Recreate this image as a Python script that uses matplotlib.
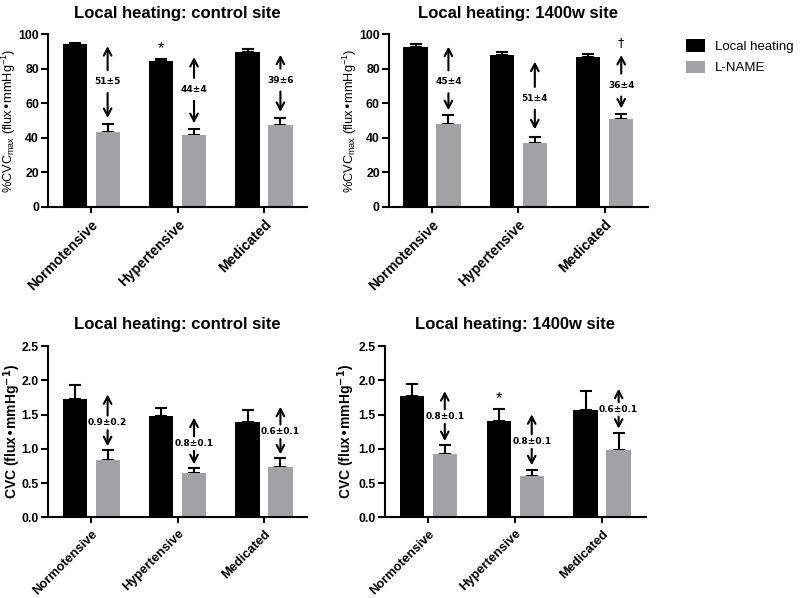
import matplotlib
matplotlib.use("Agg")
import matplotlib.pyplot as plt
import numpy as np

plt.rcParams['font.family'] = ['Liberation Sans', 'DejaVu Sans']

groups = ['Normotensive', 'Hypertensive', 'Medicated']
series = ['Local heating', 'L-NAME']

# %CVCmax, control site
lh_ctrl_pct = [94.0, 84.2, 89.8]
lh_ctrl_pct_err = [1.0, 1.3, 1.4]
ln_ctrl_pct = [43.2, 41.8, 47.4]
ln_ctrl_pct_err = [4.8, 3.5, 4.2]
# %CVCmax, 1400w site
lh_1400_pct = [92.7, 87.7, 86.9]
lh_1400_pct_err = [1.3, 1.9, 1.5]
ln_1400_pct = [47.8, 36.8, 50.9]
ln_1400_pct_err = [5.4, 3.7, 3.0]
# CVC, control site
lh_ctrl = [1.726, 1.485, 1.397]
lh_ctrl_err = [0.21, 0.115, 0.17]
ln_ctrl = [0.844, 0.64, 0.742]
ln_ctrl_err = [0.136, 0.073, 0.126]
# CVC, 1400w site
lh_1400 = [1.77, 1.41, 1.562]
lh_1400_err = [0.18, 0.177, 0.29]
ln_1400 = [0.93, 0.606, 0.98]
ln_1400_err = [0.13, 0.083, 0.25]

# difference arrows: labels, then (tip top, tip bottom, label y)
diff_ctrl_pct = ['51±5', '44±4', '39±6']
arr_ctrl_pct = ([93, 86.7, 88], [51.5, 48.5, 55], [72.5, 68, 73.4])
diff_1400_pct = ['45±4', '51±4', '36±4']
arr_1400_pct = ([92.7, 84, 87.9], [56, 44.9, 57], [72.4, 62.8, 70.5])
diff_ctrl = ['0.9±0.2', '0.8±0.1', '0.6±0.1']
arr_ctrl = ([1.795, 1.455, 1.615], [1.04, 0.776, 0.92], [1.38, 1.077, 1.25])
diff_1400 = ['0.8±0.1', '0.8±0.1', '0.6±0.1']
arr_1400 = ([1.843, 1.504, 1.878], [1.115, 0.761, 1.296], [1.47, 1.106, 1.577])

BLACK = '#000000'
GRAY = '#a2a2a6'
W = 0.28
OFF = 0.19

fig = plt.figure(figsize=(8, 5.98), dpi=100)


def panel(rect, title, ylabel, ylab_kw, lh, lh_err, ln, ln_err, labels, arrows,
          ymax, step, fmt, pad, shrink, ylx, xfs):
    ax = fig.add_axes(rect)
    x = np.arange(len(groups))
    b1 = ax.bar(x - OFF, lh, W, color=BLACK, label=series[0], zorder=2)
    b2 = ax.bar(x + OFF, ln, W, color=GRAY, label=series[1], zorder=2)
    for xs, v, e in [(x - OFF, lh, lh_err), (x + OFF, ln, ln_err)]:
        ax.errorbar(xs, v, yerr=[np.zeros(len(e)), e], fmt='none', ecolor='black',
                    elinewidth=1.5, capsize=4, capthick=1.5, zorder=1)
    tops, bots, mids = arrows
    for i, lbl in enumerate(labels):
        xi = x[i] + OFF
        for tip, col in [(tops[i], 'black'), (bots[i], 'none')]:
            ax.annotate(lbl, xy=(xi, tip), xytext=(xi, mids[i]), ha='center', va='center',
                        fontsize=6.5, fontweight='bold', color=col, family='DejaVu Sans',
                        arrowprops=dict(arrowstyle='->,head_length=0.8,head_width=0.42',
                                        lw=1.5, color='black', shrinkA=shrink, shrinkB=0))
    ax.set_xlim(-0.5, 2.5)
    ax.set_ylim(0, ymax)
    ax.set_yticks(np.arange(0, ymax + step / 2, step))
    ax.yaxis.set_major_formatter(matplotlib.ticker.FormatStrFormatter(fmt))
    ax.set_xticks(x)
    ax.set_xticklabels(groups, rotation=45, ha='right', rotation_mode='anchor',
                       fontsize=xfs, fontweight='bold')
    for s in ['top', 'right']:
        ax.spines[s].set_visible(False)
    for s in ['left', 'bottom']:
        ax.spines[s].set_linewidth(1.5)
    ax.tick_params(width=1.5, direction='out')
    ax.tick_params(axis='x', length=4)
    ax.tick_params(axis='y', length=5, pad=1.5, labelsize=8.8)
    for t in ax.get_yticklabels():
        t.set_fontweight('bold')
    ax.set_ylabel(ylabel, **ylab_kw)
    ax.yaxis.set_label_coords(ylx, 0.5)
    ax.set_title(title, fontsize=12, fontweight='bold', pad=pad)
    return ax, b1, b2


pct_label = r'%CVC$_{\mathregular{max}}$ (flux•mmHg$^{\mathregular{-1}}$)'
cvc_label = r'CVC (flux•mmHg$^{\mathbf{-1}}$)'
pct_kw = dict(fontsize=9.2)
cvc_kw = dict(fontsize=10, fontweight='bold')

ax1, b1, b2 = panel([0.06, 0.654, 0.324, 0.289], 'Local heating: control site', pct_label, pct_kw,
                    lh_ctrl_pct, lh_ctrl_pct_err, ln_ctrl_pct, ln_ctrl_pct_err,
                    diff_ctrl_pct, arr_ctrl_pct, 100, 20, '%d', 11.5, 3, -0.116, 10)
ax2, _, _ = panel([0.486, 0.654, 0.324, 0.289], 'Local heating: 1400w site', pct_label, pct_kw,
                  lh_1400_pct, lh_1400_pct_err, ln_1400_pct, ln_1400_pct_err,
                  diff_1400_pct, arr_1400_pct, 100, 20, '%d', 11.5, 3, -0.116, 10)
ax3, _, _ = panel([0.06, 0.135, 0.324, 0.286], 'Local heating: control site', cvc_label, cvc_kw,
                  lh_ctrl, lh_ctrl_err, ln_ctrl, ln_ctrl_err,
                  diff_ctrl, arr_ctrl, 2.5, 0.5, '%.1f', 12.4, 0, -0.095, 9.3)
ax4, _, _ = panel([0.481, 0.135, 0.326, 0.286], 'Local heating: 1400w site', cvc_label, cvc_kw,
                  lh_1400, lh_1400_err, ln_1400, ln_1400_err,
                  diff_1400, arr_1400, 2.5, 0.5, '%.1f', 12.4, 0, -0.105, 9.3)

# significance marks
ax1.text(1 - OFF, lh_ctrl_pct[1] + lh_ctrl_pct_err[1] + 2, '*', ha='center', va='bottom',
         fontsize=12)
ax4.text(1 - OFF, lh_1400[1] + lh_1400_err[1] + 0.04, '*', ha='center', va='bottom',
         fontsize=12)
ax2.text(2 + OFF, 91.5, '†', ha='center', va='bottom', fontsize=9, family='DejaVu Sans')

fig.legend([b1, b2], series, loc='upper left', bbox_to_anchor=(0.857, 0.935), frameon=False,
           fontsize=9.5, handlelength=1.5, handleheight=1.1, handletextpad=0.75,
           labelspacing=0.6, borderaxespad=0, borderpad=0)

fig.savefig('out.png', dpi=100)
